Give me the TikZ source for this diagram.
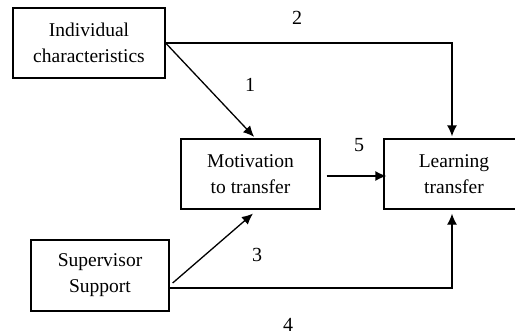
\documentclass[tikz,border=0pt]{standalone}
\usepackage{fontspec}
\setmainfont{Liberation Serif}
\usetikzlibrary{arrows.meta,calc}
\begin{document}
\begin{tikzpicture}[x=1pt,y=-1pt,
  box/.style={draw,line width=1.3pt,inner sep=0pt,align=center,font=\fontsize{19.5}{26}\selectfont},
  conn/.style={line width=1.3pt,-{Latex[length=11pt,width=10pt]}},
  lbl/.style={font=\fontsize{20}{22}\selectfont,inner sep=0pt}]
\clip (0,0) rectangle (515,335);
\fill[white] (0,0) rectangle (515,335);
\node[box,minimum width=152pt,minimum height=70pt] (ic) at (89,43) {Individual\\characteristics};
\node[box,minimum width=139pt,minimum height=70pt] (mot) at (250.5,174) {Motivation\\to transfer};
\node[box,minimum width=140pt,minimum height=70pt] (lt) at (454,174) {Learning\\transfer};
\node[box,minimum width=138pt,minimum height=71pt] (ss) at (100,275.5) {Supervisor\\Support};
\coordinate (ssup) at ($(ss.east)+(3,7.5)$);
\coordinate (ssdn) at ($(ss.east)+(0,12.5)$);
\draw[conn,shorten >=2pt] (ic.east) -- ($(mot.north)+(5,0)$);
\draw[conn,shorten >=2pt] (ic.east) -| ($(lt.north)+(-2,0)$);
\draw[conn,shorten >=6pt] (ssup) -- ($(mot.south)+(7,0)$);
\draw[conn,shorten >=4pt] (ssdn) -| ($(lt.south)+(-2,0)$);
\draw[conn] ($(mot.east)+(6,2)$) -- ($(lt.west)+(3,2)$);
\node[lbl] (l1) at (250,85) {1};
\node[lbl] (l2) at (297,18) {2};
\node[lbl] (l5) at (359,145) {5};
\node[lbl] (l3) at (257,255) {3};
\node[lbl] (l4) at (288,325) {4};
\end{tikzpicture}
\end{document}
